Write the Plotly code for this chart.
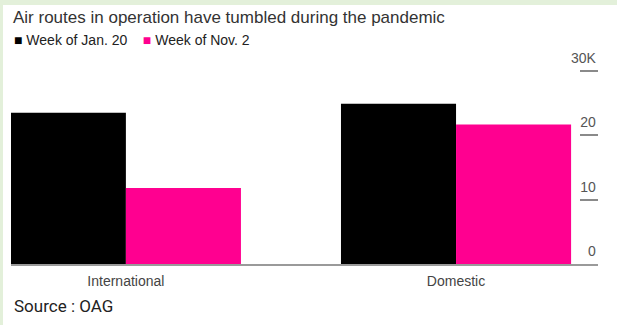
import plotly.graph_objects as go

# Weekly air routes in operation (count of routes)
categories = ["International", "Domestic"]
week_jan20 = [23500, 24900]
week_nov2 = [11800, 21700]

series_names = ["Week of Jan. 20", "Week of Nov. 2"]
series_colors = ["#000000", "#ff0090"]

tick_values = [0, 10000, 20000, 30000]
tick_labels = ["0", "10", "20", "30K"]

FONT = "Liberation Sans, Arial, sans-serif"
W, H = 617, 325
M_L, M_R, M_T, M_B = 11, 19, 40, 61
PLOT_W = W - M_L - M_R
PLOT_H = H - M_T - M_B
# 30K sits 193 px above the baseline; leave headroom above it for the label
Y_TOP = 30000 * PLOT_H / 193

fig = go.Figure()
for name, vals, color in zip(series_names, [week_jan20, week_nov2], series_colors):
    fig.add_trace(go.Bar(
        x=categories, y=vals, name=name,
        marker=dict(color=color, line=dict(width=0)),
        showlegend=False,
    ))

legend_text = "    ".join(
    f'<span style="color:{c}">■</span> {n}' for n, c in zip(series_names, series_colors)
)

fig.update_layout(
    width=W, height=H,
    margin=dict(l=M_L, r=M_R, t=M_T, b=M_B),
    paper_bgcolor="white", plot_bgcolor="white",
    barmode="group", bargap=0.303, bargroupgap=0,
    font=dict(family=FONT, color="#444"),
    xaxis=dict(
        type="category", range=[-0.348, 1.430],
        showgrid=False, zeroline=False,
        showline=True, linecolor="#9a9a9a", linewidth=1.5,
        ticks="", tickfont=dict(size=14, color="#444"), ticklabelstandoff=3,
    ),
    yaxis=dict(
        side="right", range=[0, Y_TOP],
        tickvals=tick_values, ticktext=tick_labels,
        ticks="inside", ticklen=18, tickwidth=1.5, tickcolor="#8a8a8a",
        ticklabelposition="inside", ticklabelshift=-13, ticklabelstandoff=-16,
        tickfont=dict(size=14, color="#555"),
        showgrid=False, zeroline=False, showline=False,
    ),
    annotations=[
        dict(text="Air routes in operation have tumbled during the pandemic",
             xref="paper", yref="paper", x=0, y=1, xanchor="left", yanchor="middle",
             font=dict(size=17, color="#333"), showarrow=False,
             xshift=0, yshift=M_T - 17),
        dict(text=legend_text,
             xref="paper", yref="paper", x=0, y=1, xanchor="left", yanchor="middle",
             font=dict(size=14, color="#222"), showarrow=False,
             xshift=1, yshift=M_T - 40),
        dict(text="Source : OAG",
             xref="paper", yref="paper", x=0, y=0, xanchor="left", yanchor="middle",
             font=dict(size=17, color="#222", family="Roboto, sans-serif"), showarrow=False,
             xshift=1, yshift=-(306 - (H - M_B))),
    ],
)

# light green frame along the top and left edges
fig.add_shape(type="rect", xref="paper", yref="paper",
              x0=-M_L / PLOT_W, x1=(W - M_L) / PLOT_W,
              y0=1 + (M_T - 5) / PLOT_H, y1=1 + M_T / PLOT_H,
              fillcolor="#e3f0da", line=dict(width=0), layer="below")
fig.add_shape(type="rect", xref="paper", yref="paper",
              x0=-M_L / PLOT_W, x1=(3 - M_L) / PLOT_W,
              y0=-M_B / PLOT_H, y1=1 + M_T / PLOT_H,
              fillcolor="#e3f0da", line=dict(width=0), layer="below")

fig.write_html("out.html")
